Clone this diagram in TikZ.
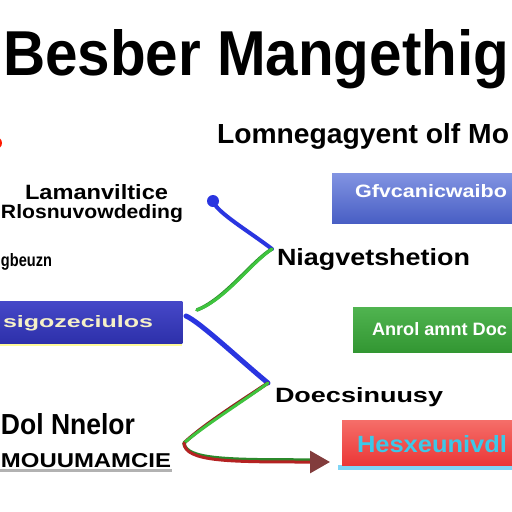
\documentclass[tikz,border=0pt]{standalone}
\usepackage{fontspec}
\setmainfont{Liberation Serif}
\setsansfont{Liberation Sans}
\usetikzlibrary{arrows.meta}
\newcommand{\fitt}[3]{\resizebox{#1pt}{#2pt}{\sffamily\bfseries #3}}
\definecolor{lblue}{HTML}{2A35E0}
\definecolor{lgreen}{HTML}{3EC43E}
\definecolor{lred}{HTML}{B52222}
\begin{document}
\begin{tikzpicture}[x=1pt,y=-1pt,
  txt/.style={anchor=base west, inner sep=0pt, outer sep=0pt},
  boxn/.style={anchor=north west, inner sep=0pt, minimum width=#1pt},
  conn/.style={line width=4pt, line cap=round}]
\useasboundingbox (0,0) rectangle (512,512);
\fill[white] (0,0) rectangle (512,512);

% titles
\node[txt] (title) at (3,75) {\fitt{506}{46}{Besber Mangethig}};
\node[txt] (sub) at (217,143) {\fitt{292}{20}{Lomnegagyent olf Mo}};

% left labels
\node[txt] (l1) at (25,199) {\fitt{143}{15}{Lamanviltice}};
\node[txt] (l2) at (1,218) {\fitt{182}{14}{Rlosnuvowdeding}};
\node[txt] (l3) at (1,266) {\fitt{51}{13}{gbeuzn}};
\node[txt] (l4) at (1,434) {\fitt{134}{21}{Dol Nnelor}};
\node[txt] (l5) at (1,467) {\fitt{170}{14}{MOUUMAMCIE}};
\fill[gray!60] (0,469) rectangle (172,472);

% middle labels
\node[txt] (m1) at (277,265) {\fitt{193}{17}{Niagvetshetion}};
\node[txt] (m2) at (275,402) {\fitt{168}{15}{Doecsinuusy}};

% red dot fragment
\fill[red!80!orange] (-4,143) circle (6);

% boxes
\node[boxn=180, minimum height=50pt] (bx1) at (332,173) {};
\shade[top color={rgb,255:red,130;green,148;blue,226}, bottom color={rgb,255:red,72;green,94;blue,196}] (bx1.north west) rectangle (bx1.south east);
\node[txt, text=white] (t1) at (355,197) {\fitt{152}{13}{Gfvcanicwaibo}};

\fill[yellow!40] (0,341) rectangle (182,346);
\node[boxn=182, minimum height=42pt] (bx2) at (0,301) {};
\shade[top color={rgb,255:red,70;green,72;blue,200}, bottom color={rgb,255:red,45;green,48;blue,170}] (bx2.north west) rectangle (bx2.south east);
\node[txt, text={rgb,255:red,245;green,240;blue,200}] (t2) at (3,327) {\fitt{150}{12}{sigozeciulos}};

\node[boxn=159, minimum height=45pt] (bx3) at (353,307) {};
\shade[top color={rgb,255:red,80;green,180;blue,80}, bottom color={rgb,255:red,50;green,150;blue,50}] (bx3.north west) rectangle (bx3.south east);
\node[txt, text=white] (t3) at (372,335) {\fitt{135}{13}{Anrol amnt Doc}};

\fill[cyan!50] (338,465) rectangle (512,470);
\node[boxn=170, minimum height=45pt] (bx4) at (342,420) {};
\shade[top color={rgb,255:red,245;green,110;blue,105}, bottom color={rgb,255:red,235;green,55;blue,55}] (bx4.north west) rectangle (bx4.south east);
\node[txt, text={rgb,255:red,60;green,200;blue,232}] (t4) at (357,452) {\fitt{150}{17}{Hesxeunivdl}};

% connector points
\coordinate (c0) at (213,201);
\coordinate (j1) at (272,249);
\coordinate (c2) at (197,310);
\coordinate (c3) at (186,316);
\coordinate (j2) at (268,383);
\coordinate (c5) at (184,443);
\coordinate (c6) at (330,462);

% connectors
\fill[lblue] (c0) circle (6);
\draw[conn, lblue] (c0) .. controls (216,212) and (250,232) .. (j1);
\draw[conn, line width=3.5pt, lgreen!70!black, yshift=1pt] (j1) .. controls (252,262) and (225,300) .. (c2);
\draw[conn, line width=3pt, lgreen] (j1) .. controls (252,262) and (225,300) .. (c2);
\draw[conn, line width=5pt, lblue] (c3) .. controls (200,322) and (240,360) .. (j2);
\draw[conn, line width=3.5pt, lred!80!black, yshift=1.5pt] (j2) .. controls (245,400) and (205,425) .. (c5);
\draw[conn, line width=3pt, lgreen] (j2) .. controls (245,400) and (205,425) .. (c5);
\draw[conn, line width=3.5pt, lgreen!70!black, yshift=2pt] (c5) .. controls (185,462) and (230,462) .. (310,462);
\draw[line width=3pt, line cap=round, lred, -{Triangle[length=20pt,width=22pt,color={rgb,255:red,130;green,60;blue,60}]}] (c5) .. controls (185,462) and (230,462) .. (c6);
\end{tikzpicture}
\end{document}
